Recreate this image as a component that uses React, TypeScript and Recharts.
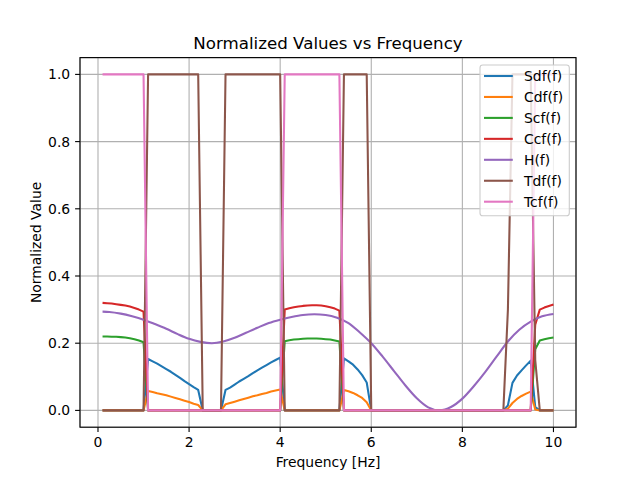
import React from 'react';
import { LineChart, Line, XAxis, YAxis, CartesianGrid } from 'recharts';

type Pt = [number, number];

const X_TICKS = [0, 2, 4, 6, 8, 10];
const Y_TICKS = [0, 0.2, 0.4, 0.6, 0.8, 1.0];

const SDF: Pt[] = [[0.1,0],[1.0,0],[1.1,0.153],[1.2,0.146],[1.3,0.139],[1.4,0.131],[1.5,0.123],[1.6,0.115],[1.7,0.106],[1.8,0.097],[1.9,0.087],[2.0,0.078],[2.1,0.069],[2.2,0.061],[2.3,0],[2.7,0],[2.8,0.061],[2.9,0.068],[3.0,0.077],[3.1,0.086],[3.2,0.094],[3.3,0.102],[3.4,0.111],[3.5,0.119],[3.6,0.127],[3.7,0.135],[3.8,0.143],[3.9,0.150],[4.0,0.157],[4.1,0],[5.3,0],[5.4,0.155],[5.5,0.146],[5.6,0.136],[5.7,0.122],[5.8,0.105],[5.9,0.083],[6.0,0],[8.9,0],[9.0,0.015],[9.1,0.082],[9.2,0.104],[9.3,0.119],[9.4,0.134],[9.5,0.148],[9.6,0.01],[9.7,0],[10.0,0]];

const CDF: Pt[] = [[0.1,0],[1.0,0],[1.1,0.058],[1.2,0.055],[1.3,0.051],[1.4,0.048],[1.5,0.045],[1.6,0.041],[1.7,0.037],[1.8,0.033],[1.9,0.029],[2.0,0.025],[2.1,0.020],[2.2,0.016],[2.3,0],[2.7,0],[2.8,0.018],[2.9,0.022],[3.0,0.026],[3.1,0.030],[3.2,0.034],[3.3,0.038],[3.4,0.042],[3.5,0.045],[3.6,0.049],[3.7,0.052],[3.8,0.056],[3.9,0.059],[4.0,0.062],[4.1,0],[5.3,0],[5.4,0.061],[5.5,0.057],[5.6,0.052],[5.7,0.045],[5.8,0.037],[5.9,0.024],[6.0,0],[8.9,0],[9.0,0.005],[9.1,0.022],[9.2,0.034],[9.3,0.043],[9.4,0.050],[9.5,0.056],[9.6,0.003],[9.7,0],[10.0,0]];

const SCF: Pt[] = [[0.1,0.220],[0.2,0.220],[0.3,0.219],[0.4,0.219],[0.5,0.218],[0.6,0.217],[0.7,0.215],[0.8,0.212],[0.9,0.208],[1.0,0.203],[1.1,0],[4.0,0],[4.1,0.206],[4.2,0.209],[4.3,0.211],[4.4,0.212],[4.5,0.213],[4.6,0.214],[4.7,0.214],[4.8,0.214],[4.9,0.213],[5.0,0.212],[5.1,0.211],[5.2,0.208],[5.3,0.205],[5.4,0],[9.5,0],[9.6,0.182],[9.7,0.208],[9.8,0.212],[9.9,0.215],[10.0,0.217]];

const CCF: Pt[] = [[0.1,0.320],[0.2,0.319],[0.3,0.318],[0.4,0.316],[0.5,0.314],[0.6,0.312],[0.7,0.309],[0.8,0.305],[0.9,0.300],[1.0,0.294],[1.1,0],[4.0,0],[4.1,0.300],[4.2,0.304],[4.3,0.307],[4.4,0.309],[4.5,0.311],[4.6,0.312],[4.7,0.313],[4.8,0.313],[4.9,0.312],[5.0,0.310],[5.1,0.307],[5.2,0.303],[5.3,0.297],[5.4,0],[9.5,0],[9.6,0.255],[9.7,0.300],[9.8,0.306],[9.9,0.311],[10.0,0.315]];

const HF: Pt[] = [[0.1,0.294],[0.25,0.293],[0.5,0.288],[0.75,0.280],[1.0,0.270],[1.25,0.257],[1.5,0.243],[1.75,0.227],[2.0,0.213],[2.25,0.204],[2.5,0.200],[2.75,0.205],[3.0,0.216],[3.25,0.231],[3.5,0.246],[3.75,0.260],[4.0,0.270],[4.25,0.278],[4.5,0.284],[4.75,0.286],[5.0,0.284],[5.25,0.276],[5.5,0.260],[5.75,0.232],[6.0,0.200],[6.25,0.160],[6.5,0.117],[6.75,0.074],[7.0,0.036],[7.25,0.009],[7.5,0.000],[7.75,0.010],[8.0,0.035],[8.25,0.072],[8.5,0.114],[8.75,0.160],[9.0,0.205],[9.25,0.240],[9.5,0.264],[9.75,0.280],[10.0,0.287]];

const TDF: Pt[] = [[0.1,0],[1.0,0],[1.1,1],[2.2,1],[2.3,0],[2.7,0],[2.8,1],[4.0,1],[4.1,0],[5.3,0],[5.4,1],[5.9,1],[6.0,0],[8.9,0],[9.0,0.3],[9.1,1],[9.5,1],[9.6,0.15],[9.7,0],[10.0,0]];

const TCF: Pt[] = [[0.1,1],[1.0,1],[1.1,0],[4.0,0],[4.1,1],[5.3,1],[5.4,0],[9.5,0],[9.6,1],[10.0,1]];

const SERIES_NAMES = ['Sdf(f)', 'Cdf(f)', 'Scf(f)', 'Ccf(f)', 'H(f)', 'Tdf(f)', 'Tcf(f)'];
const SERIES_COLORS = ['#1f77b4', '#ff7f0e', '#2ca02c', '#d62728', '#9467bd', '#8c564b', '#e377c2'];
const SERIES_DATA = [SDF, CDF, SCF, CCF, HF, TDF, TCF];
const SERIES_CURVE = ['linear', 'linear', 'linear', 'linear', 'monotone', 'linear', 'linear'];

const FONT = '"DejaVu Sans", sans-serif';
const FS = 13.9;
const PLOT = { left: 80, top: 57.6, width: 496, height: 369.6 };

export default function App() {
  const series = SERIES_DATA.map((pts) => pts.map(([x, y]) => ({ x, y })));
  const tickStyle = { fill: '#000', fontSize: FS, fontFamily: FONT };
  const legendX = 480;
  const legendY = 65;
  const rowGap = 20.95;
  return (
    <div style={{ position: 'absolute', left: 0, top: 0, width: 640, height: 480, background: '#fff' }}>
      <LineChart
        width={640}
        height={480}
        margin={{ top: PLOT.top, right: 640 - PLOT.left - PLOT.width, bottom: 0, left: 0 }}
      >
        <CartesianGrid stroke="#b0b0b0" strokeWidth={1.1} />
        <XAxis
          dataKey="x"
          type="number"
          domain={[-0.395, 10.495]}
          ticks={X_TICKS}
          height={480 - PLOT.top - PLOT.height}
          axisLine={false}
          tickLine={{ stroke: '#000', strokeWidth: 1.1 }}
          tickSize={4.9}
          tickMargin={4.9}
          tick={tickStyle}
          interval={0}
          allowDataOverflow
        />
        <YAxis
          type="number"
          domain={[-0.05, 1.05]}
          ticks={Y_TICKS}
          width={PLOT.left}
          axisLine={false}
          tickLine={{ stroke: '#000', strokeWidth: 1.1 }}
          tickSize={4.9}
          tickMargin={4.9}
          tick={tickStyle}
          interval={0}
          tickFormatter={(v: number) => v.toFixed(1)}
          allowDataOverflow
        />
        {series.map((d, i) => (
          <Line
            key={SERIES_NAMES[i]}
            data={d}
            dataKey="y"
            name={SERIES_NAMES[i]}
            type={SERIES_CURVE[i] as any}
            stroke={SERIES_COLORS[i]}
            strokeWidth={2.08}
            strokeLinejoin="round"
            dot={false}
            activeDot={false}
            isAnimationActive={false}
          />
        ))}
      </LineChart>
      <svg
        width={640}
        height={480}
        style={{ position: 'absolute', left: 0, top: 0, pointerEvents: 'none' }}
      >
        <rect
          x={PLOT.left}
          y={PLOT.top}
          width={PLOT.width}
          height={PLOT.height}
          fill="none"
          stroke="#000"
          strokeWidth={1.1}
        />
        <text x={328} y={49.3} textAnchor="middle" fontFamily={FONT} fontSize={16.67} fill="#000">
          Normalized Values vs Frequency
        </text>
        <text x={328} y={466.5} textAnchor="middle" fontFamily={FONT} fontSize={FS} fill="#000">
          Frequency [Hz]
        </text>
        <text
          x={0}
          y={0}
          transform={`translate(40.5, ${PLOT.top + PLOT.height / 2}) rotate(-90)`}
          textAnchor="middle"
          fontFamily={FONT}
          fontSize={FS}
          fill="#000"
        >
          Normalized Value
        </text>
        <rect
          x={legendX}
          y={legendY}
          width={89.3}
          height={150.7}
          rx={2.8}
          fill="#fff"
          fillOpacity={0.8}
          stroke="#cccccc"
          strokeWidth={1.1}
        />
        {SERIES_NAMES.map((name, i) => {
          const ly = 76 + rowGap * i;
          return (
            <g key={name}>
              <line x1={484} x2={512.8} y1={ly} y2={ly} stroke={SERIES_COLORS[i]} strokeWidth={2.08} />
              <text x={524} y={ly + 5} fontFamily={FONT} fontSize={FS} fill="#000">
                {name}
              </text>
            </g>
          );
        })}
      </svg>
    </div>
  );
}
